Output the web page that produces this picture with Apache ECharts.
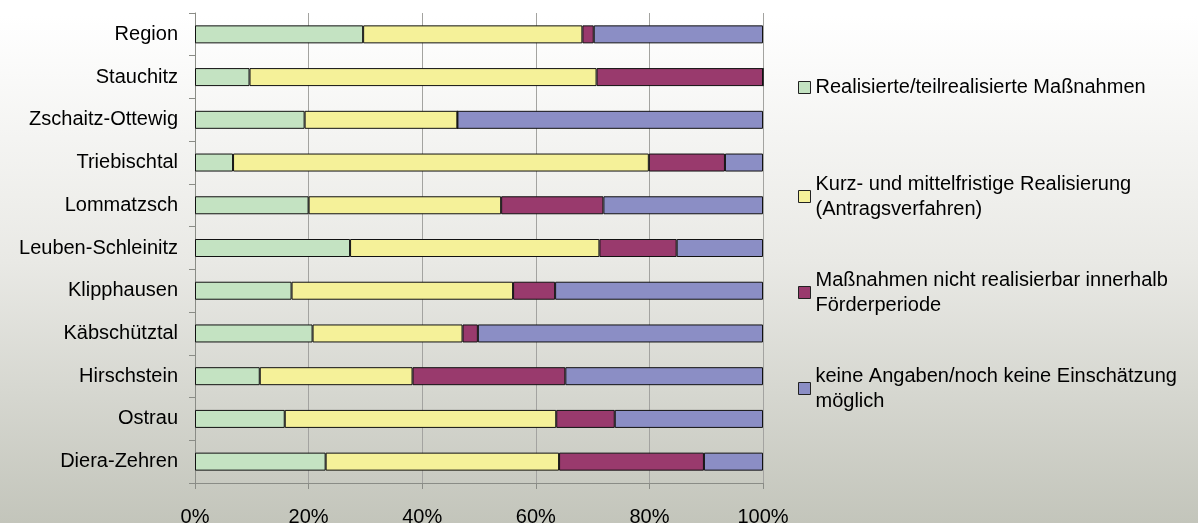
<!DOCTYPE html>
<html style="height: 100%">
<head>
<meta charset="utf-8">
<script src="https://cdn.jsdelivr.net/npm/echarts@6/dist/echarts.min.js"></script>
</head>
<body style="height: 100%; margin: 0">
<div id="main" style="width: 1198px; height: 523px"></div>
<script>
// categories listed bottom to top (category axis starts at the bottom)
var gemeinden = ['Diera-Zehren', 'Ostrau', 'Hirschstein', 'Käbschütztal', 'Klipphausen',
    'Leuben-Schleinitz', 'Lommatzsch', 'Triebischtal', 'Zschaitz-Ottewig', 'Stauchitz', 'Region'];

var realisiert   = [23.0, 15.8, 11.4, 20.7, 17.0, 27.3, 20.0,  6.7, 19.3,  9.6, 29.6];
var kurzMittel   = [41.1, 47.8, 26.9, 26.4, 39.0, 43.9, 33.9, 73.2, 26.9, 61.1, 38.6];
var nichtReal    = [25.5, 10.3, 26.9,  2.7,  7.4, 13.6, 18.0, 13.4,  0.0, 29.3,  2.0];
var keineAngaben = [10.4, 26.1, 34.8, 50.2, 36.6, 15.2, 28.1,  6.7, 53.8,  0.0, 29.8];

var serienNamen = [
    'Realisierte/teilrealisierte Maßnahmen',
    'Kurz- und mittelfristige Realisierung\n(Antragsverfahren)',
    'Maßnahmen nicht realisierbar innerhalb\nFörderperiode',
    'keine Angaben/noch keine Einschätzung\nmöglich'
];
var farben = ['#c4e3c2', '#f5f199', '#993a6d', '#8b8ec5'];
var werte = [realisiert, kurzMittel, nichtReal, keineAngaben];

var fontName = 'Liberation Sans, Arial, sans-serif';

var myChart = echarts.init(document.getElementById('main'));

var series = [];
for (let i = 0; i < werte.length; i++) {
    series.push({
        name: serienNamen[i],
        type: 'bar',
        stack: 'gesamt',
        barWidth: 18,
        data: werte[i],
        itemStyle: {
            color: farben[i],
            borderColor: '#111',
            borderWidth: 1
        },
        emphasis: { disabled: true }
    });
}

// the padding keeps the icon level with the first text line
var legendData = serienNamen.map(function (n, i) {
    return {
        name: n,
        textStyle: { padding: i === 0 ? [38, 0, 38, 0] : [25, 0, 0, 0] }
    };
});

myChart.setOption({
    backgroundColor: {
        type: 'linear', x: 0, y: 0, x2: 0, y2: 1,
        colorStops: [
            { offset: 0, color: '#ffffff' },
            { offset: 0.03, color: '#ffffff' },
            { offset: 0.5, color: '#e9e9e5' },
            { offset: 1, color: '#c3c5bb' }
        ]
    },
    animation: false,
    textStyle: { fontFamily: fontName },
    grid: { left: 195, right: 435, top: 13, bottom: 40, outerBoundsMode: 'none' },
    legend: {
        orient: 'vertical',
        left: 793,
        top: 32,
        itemGap: 21,
        itemWidth: 12,
        itemHeight: 12,
        icon: 'rect',
        selectedMode: false,
        itemStyle: { borderColor: '#222', borderWidth: 1 },
        textStyle: { fontSize: 20, lineHeight: 25, color: '#000', fontFamily: fontName },
        data: legendData
    },
    xAxis: {
        type: 'value',
        min: 0,
        max: 100,
        interval: 20,
        axisLine: { show: true, lineStyle: { color: '#8a8c86' } },
        axisTick: { show: true, length: 6, lineStyle: { color: '#8a8c86' } },
        splitLine: { show: true, lineStyle: { color: '#a3a3a0' } },
        axisLabel: {
            formatter: '{value}%',
            fontSize: 20,
            color: '#000',
            margin: 24,
            fontFamily: fontName
        }
    },
    yAxis: {
        type: 'category',
        data: gemeinden,
        axisLine: { show: true, lineStyle: { color: '#8a8c86' } },
        axisTick: { show: true, length: 6, lineStyle: { color: '#8a8c86' } },
        axisLabel: { fontSize: 20, color: '#000', margin: 17, padding: [0, 0, 4, 0], fontFamily: fontName }
    },
    series: series
});
</script>
</body>
</html>
